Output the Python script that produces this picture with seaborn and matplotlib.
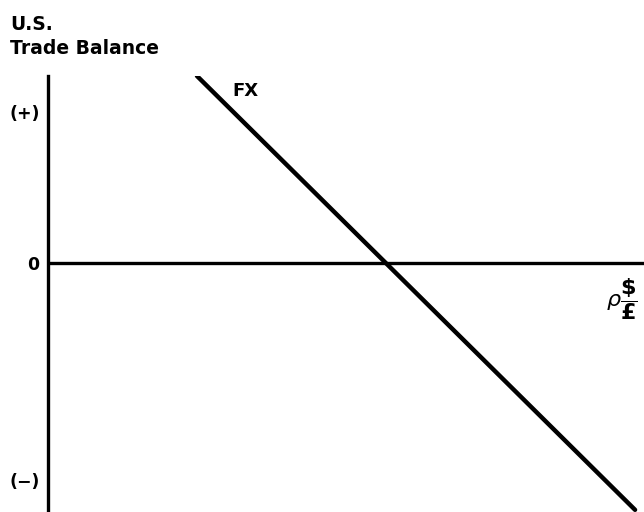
import matplotlib
matplotlib.use("Agg")
from matplotlib import pyplot as plt
import seaborn as sns
import pandas as pd

# FX schedule: U.S. trade balance against the dollar price of sterling
fx_rate = [0.25, 0.985]
trade_balance = [1.0, -1.32]

y_ticks = [0.807, 0.0, -1.16]
y_tick_labels = ["(+)", "0", "(\u2212)"]

sns.set_theme(style="white")
plt.rcParams["font.family"] = ["DejaVu Sans"]
plt.rcParams["text.color"] = "black"
plt.rcParams["ytick.color"] = "black"
plt.rcParams["ytick.labelcolor"] = "black"

fig = plt.figure(figsize=(6.44, 5.12), dpi=100)
ax = fig.add_axes([48 / 644, 0.0, 596 / 644, 436 / 512])

df = pd.DataFrame({"rate": fx_rate, "balance": trade_balance})
sns.lineplot(data=df, x="rate", y="balance", ax=ax, color="black",
             linewidth=3.2, solid_capstyle="round")
ax.axhline(0, color="black", linewidth=2.4)

ax.set_xlim(0, 1.0)
ax.set_ylim(-249 / 187, 1.0)
ax.set_xlabel("")
ax.set_ylabel("")
ax.set_xticks([])
ax.set_yticks(y_ticks)
ax.set_yticklabels(y_tick_labels, fontsize=12.5, fontweight="bold", color="black")
ax.tick_params(axis="y", length=0, pad=6)

for side in ["top", "right", "bottom"]:
    ax.spines[side].set_visible(False)
ax.spines["left"].set_linewidth(2.4)
ax.spines["left"].set_color("black")

ax.text(0.332, 0.92, "FX", fontsize=13, fontweight="bold", transform=ax.transData,
        va="center", ha="center", color="black")
ax.text(0.937, -0.19, "$\\rho\\dfrac{\\mathbf{\\$}}{\\mathbf{\u00a3}}$", fontsize=16,
        transform=ax.transData, va="center", ha="left", clip_on=False, color="black")

fig.text(10 / 644, 1 - 25 / 512, "U.S.", fontsize=13.5, fontweight="bold", va="center")
fig.text(10 / 644, 1 - 48 / 512, "Trade Balance", fontsize=13.5, fontweight="bold",
         va="center")

fig.savefig("out.png", dpi=100)
